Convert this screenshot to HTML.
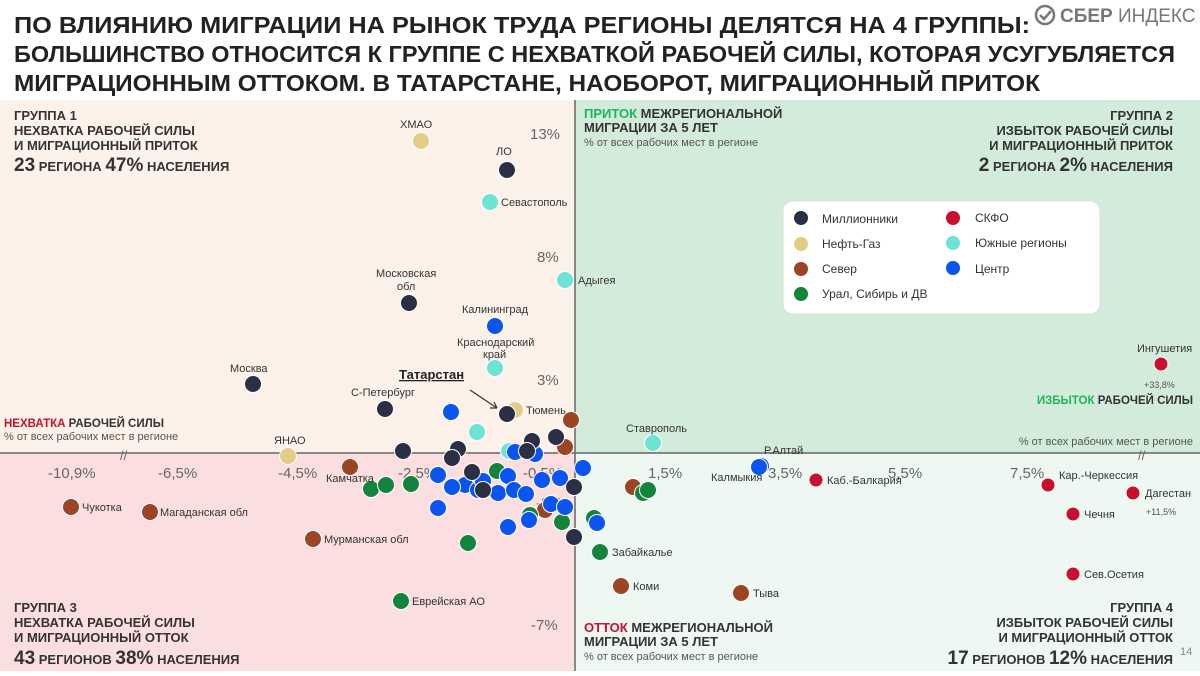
<!DOCTYPE html>
<html><head><meta charset="utf-8"><style>
body{margin:0;width:1200px;height:671px;overflow:hidden;background:#fff;font-family:"Liberation Sans","DejaVu Sans",sans-serif}
svg text{font-family:"Liberation Sans","DejaVu Sans",sans-serif}
</style></head><body>
<svg width="1200" height="671" xmlns="http://www.w3.org/2000/svg">
<rect x="0" y="0" width="1200" height="100" fill="#fff"/>
<g font-weight="bold" font-size="23" fill="#222">
<text x="14" y="33" textLength="1016" lengthAdjust="spacingAndGlyphs">ПО ВЛИЯНИЮ МИГРАЦИИ НА РЫНОК ТРУДА РЕГИОНЫ ДЕЛЯТСЯ НА 4 ГРУППЫ:</text>
<text x="14" y="62" textLength="1161" lengthAdjust="spacingAndGlyphs">БОЛЬШИНСТВО ОТНОСИТСЯ К ГРУППЕ С НЕХВАТКОЙ РАБОЧЕЙ СИЛЫ, КОТОРАЯ УСУГУБЛЯЕТСЯ</text>
<text x="14" y="91" textLength="1026" lengthAdjust="spacingAndGlyphs">МИГРАЦИОННЫМ ОТТОКОМ. В ТАТАРСТАНЕ, НАОБОРОТ, МИГРАЦИОННЫЙ ПРИТОК</text>
</g>
<circle cx="1045" cy="15" r="9" fill="none" stroke="#777" stroke-width="2.5"/>
<path d="M1040 15 l4 4 l7 -8" fill="none" stroke="#777" stroke-width="2.5"/>
<text x="1060" y="22" font-size="19" fill="#777"><tspan font-weight="bold">СБЕР</tspan> ИНДЕКС</text>
<rect x="0" y="100" width="575" height="353" fill="#fdf2ea"/>
<rect x="575" y="100" width="625" height="353" fill="#d3ebdb"/>
<rect x="0" y="453" width="575" height="218" fill="#fbdfe0"/>
<rect x="575" y="453" width="625" height="218" fill="#eef7f1"/>
<line x1="575" y1="100" x2="575" y2="671" stroke="#666" stroke-width="1.5"/>
<line x1="0" y1="453" x2="1200" y2="453" stroke="#666" stroke-width="1.5"/>
<text x="120" y="460" font-size="13" fill="#666">//</text>
<text x="1138" y="460" font-size="13" fill="#666">//</text>
<g font-size="15" fill="#666">
<text x="48" y="478">-10,9%</text><text x="158" y="478">-6,5%</text><text x="278" y="478">-4,5%</text>
<text x="398" y="478">-2,5%</text><text x="523" y="478">-0,5%</text><text x="648" y="478">1,5%</text>
<text x="768" y="478">3,5%</text><text x="888" y="478">5,5%</text><text x="1010" y="478">7,5%</text>
<text x="530" y="139">13%</text><text x="537" y="262">8%</text><text x="537" y="385">3%</text>
<text x="536" y="508">-2%</text><text x="531" y="630">-7%</text>
</g>
<g font-weight="bold" fill="#333" font-size="13">
<text x="14" y="120">ГРУППА 1</text><text x="14" y="135">НЕХВАТКА РАБОЧЕЙ СИЛЫ</text><text x="14" y="150">И МИГРАЦИОННЫЙ ПРИТОК</text>
<text x="14" y="171"><tspan font-size="19">23</tspan> РЕГИОНА <tspan font-size="19">47%</tspan> НАСЕЛЕНИЯ</text>
<text x="1173" y="120" text-anchor="end">ГРУППА 2</text><text x="1173" y="135" text-anchor="end">ИЗБЫТОК РАБОЧЕЙ СИЛЫ</text><text x="1173" y="150" text-anchor="end">И МИГРАЦИОННЫЙ ПРИТОК</text>
<text x="1173" y="171" text-anchor="end"><tspan font-size="19">2</tspan> РЕГИОНА <tspan font-size="19">2%</tspan> НАСЕЛЕНИЯ</text>
<text x="14" y="612">ГРУППА 3</text><text x="14" y="627">НЕХВАТКА РАБОЧЕЙ СИЛЫ</text><text x="14" y="642">И МИГРАЦИОННЫЙ ОТТОК</text>
<text x="14" y="664"><tspan font-size="19">43</tspan> РЕГИОНОВ <tspan font-size="19">38%</tspan> НАСЕЛЕНИЯ</text>
<text x="1173" y="612" text-anchor="end">ГРУППА 4</text><text x="1173" y="627" text-anchor="end">ИЗБЫТОК РАБОЧЕЙ СИЛЫ</text><text x="1173" y="642" text-anchor="end">И МИГРАЦИОННЫЙ ОТТОК</text>
<text x="1173" y="664" text-anchor="end"><tspan font-size="19">17</tspan> РЕГИОНОВ <tspan font-size="19">12%</tspan> НАСЕЛЕНИЯ</text>
<text x="584" y="118"><tspan fill="#1fb55a">ПРИТОК</tspan> МЕЖРЕГИОНАЛЬНОЙ</text><text x="584" y="132">МИГРАЦИИ ЗА 5 ЛЕТ</text>
<text x="584" y="632"><tspan fill="#c8102e">ОТТОК</tspan> МЕЖРЕГИОНАЛЬНОЙ</text><text x="584" y="646">МИГРАЦИИ ЗА 5 ЛЕТ</text>
<text x="4" y="427" font-size="11.5"><tspan fill="#c8102e">НЕХВАТКА</tspan> РАБОЧЕЙ СИЛЫ</text>
<text x="1193" y="404" font-size="11.5" text-anchor="end"><tspan fill="#1fb55a">ИЗБЫТОК</tspan> РАБОЧЕЙ СИЛЫ</text>
</g>
<g font-size="11" fill="#555">
<text x="584" y="146">% от всех рабочих мест в регионе</text>
<text x="584" y="660">% от всех рабочих мест в регионе</text>
<text x="4" y="440">% от всех рабочих мест в регионе</text>
<text x="1193" y="445" text-anchor="end">% от всех рабочих мест в регионе</text>
</g>
<text x="1180" y="655" font-size="11" fill="#888">14</text>
<rect x="783" y="201" width="317" height="113" rx="10" fill="#fff" stroke="#ddd"/>
<g font-size="12" fill="#333">
<circle cx="801" cy="218" r="7" fill="#2b2f45"/><text x="822" y="223">Миллионники</text>
<circle cx="801" cy="244" r="7" fill="#e3cc84"/><text x="822" y="248">Нефть-Газ</text>
<circle cx="801" cy="269" r="7" fill="#9c4423"/><text x="822" y="273">Север</text>
<circle cx="801" cy="294" r="7" fill="#13843c"/><text x="822" y="298">Урал, Сибирь и ДВ</text>
<circle cx="953" cy="218" r="7" fill="#c8102e"/><text x="975" y="222">СКФО</text>
<circle cx="953" cy="243" r="7" fill="#6de3d4"/><text x="975" y="247">Южные регионы</text>
<circle cx="953" cy="268" r="7" fill="#0a55f0"/><text x="975" y="273">Центр</text>
</g>
<g stroke="#fff" stroke-width="1" id="dots">
<g fill="#e3cc84"><circle cx="421" cy="141" r="8.5"/><circle cx="515" cy="410" r="8.5"/><circle cx="288" cy="456" r="8.5"/></g>
<g fill="#6de3d4"><circle cx="490" cy="202" r="8.5"/><circle cx="495" cy="368" r="8.5"/><circle cx="565" cy="280" r="8.5"/><circle cx="477" cy="432" r="8.5"/><circle cx="509" cy="451" r="8.5"/><circle cx="653" cy="443" r="8.5"/></g>
<g fill="#9c4423"><circle cx="571" cy="420" r="8.5"/><circle cx="565" cy="447" r="8.5"/><circle cx="350" cy="467" r="8.5"/><circle cx="545" cy="510" r="8.5"/><circle cx="71" cy="507" r="8.5"/><circle cx="150" cy="512" r="8.5"/><circle cx="313" cy="539" r="8.5"/><circle cx="633" cy="487" r="8.5"/><circle cx="621" cy="586" r="8.5"/><circle cx="741" cy="593" r="8.5"/></g>
<g fill="#13843c"><circle cx="371" cy="489" r="8.5"/><circle cx="386" cy="485" r="8.5"/><circle cx="411" cy="484" r="8.5"/><circle cx="497" cy="471" r="8.5"/><circle cx="530" cy="515" r="8.5"/><circle cx="562" cy="522" r="8.5"/><circle cx="468" cy="543" r="8.5"/><circle cx="401" cy="601" r="8.5"/><circle cx="643" cy="493" r="8.5"/><circle cx="648" cy="490" r="8.5"/><circle cx="594" cy="518" r="8.5"/><circle cx="600" cy="552" r="8.5"/></g>
<g fill="#0a55f0"><circle cx="495" cy="326" r="8.5"/><circle cx="451" cy="412" r="8.5"/><circle cx="535" cy="454" r="8.5"/><circle cx="515" cy="452" r="8.5"/><circle cx="438" cy="475" r="8.5"/><circle cx="508" cy="476" r="8.5"/><circle cx="465" cy="485" r="8.5"/><circle cx="478" cy="490" r="8.5"/><circle cx="498" cy="493" r="8.5"/><circle cx="483" cy="481" r="8.5"/><circle cx="452" cy="487" r="8.5"/><circle cx="514" cy="490" r="8.5"/><circle cx="526" cy="494" r="8.5"/><circle cx="542" cy="480" r="8.5"/><circle cx="560" cy="478" r="8.5"/><circle cx="551" cy="504" r="8.5"/><circle cx="565" cy="507" r="8.5"/><circle cx="529" cy="520" r="8.5"/><circle cx="508" cy="527" r="8.5"/><circle cx="438" cy="508" r="8.5"/><circle cx="583" cy="468" r="8.5"/><circle cx="597" cy="523" r="8.5"/><circle cx="761" cy="466" r="8.5"/><circle cx="759" cy="467" r="8.5"/></g>
<g fill="#2b2f45"><circle cx="507" cy="170" r="8.5"/><circle cx="409" cy="303" r="8.5"/><circle cx="253" cy="384" r="8.5"/><circle cx="385" cy="409" r="8.5"/><circle cx="507" cy="414" r="8.5"/><circle cx="556" cy="437" r="8.5"/><circle cx="532" cy="441" r="8.5"/><circle cx="403" cy="451" r="8.5"/><circle cx="458" cy="449" r="8.5"/><circle cx="452" cy="458" r="8.5"/><circle cx="527" cy="451" r="8.5"/><circle cx="472" cy="472" r="8.5"/><circle cx="483" cy="490" r="8.5"/><circle cx="574" cy="487" r="8.5"/><circle cx="574" cy="537" r="8.5"/></g>
<g fill="#c8102e"><circle cx="1161" cy="364" r="7"/><circle cx="816" cy="480" r="7"/><circle cx="1048" cy="485" r="7"/><circle cx="1133" cy="493" r="7"/><circle cx="1073" cy="514" r="7"/><circle cx="1073" cy="574" r="7"/></g>
</g>
<line x1="470" y1="390" x2="497" y2="408" stroke="#333" stroke-width="1.2"/>
<path d="M497 408 l-7 0 M497 408 l-3 -6" stroke="#333" stroke-width="1.2"/>
<g font-size="11" fill="#333">
<text x="400" y="128">ХМАО</text><text x="496" y="155">ЛО</text><text x="501" y="206">Севастополь</text>
<text x="376" y="277">Московская</text><text x="397" y="290">обл</text>
<text x="462" y="313">Калининград</text><text x="457" y="346">Краснодарский</text><text x="483" y="358">край</text>
<text x="230" y="372">Москва</text><text x="351" y="396">С-Петербург</text><text x="526" y="414">Тюмень</text>
<text x="578" y="284">Адыгея</text><text x="274" y="444">ЯНАО</text><text x="326" y="482">Камчатка</text>
<text x="82" y="511">Чукотка</text><text x="160" y="516">Магаданская обл</text><text x="324" y="543">Мурманская обл</text>
<text x="412" y="605">Еврейская АО</text><text x="612" y="556">Забайкалье</text><text x="633" y="590">Коми</text><text x="753" y="597">Тыва</text>
<text x="626" y="432">Ставрополь</text><text x="764" y="454">Р.Алтай</text><text x="711" y="481">Калмыкия</text>
<text x="827" y="484">Каб.-Балкария</text><text x="1059" y="479">Кар.-Черкессия</text><text x="1145" y="497">Дагестан</text>
<text x="1084" y="518">Чечня</text><text x="1084" y="578">Сев.Осетия</text><text x="1137" y="352">Ингушетия</text>
</g>
<text x="1144" y="388" font-size="9" fill="#555">+33,8%</text>
<text x="1146" y="515" font-size="9" fill="#555">+11,5%</text>
<text x="399" y="379" font-size="13" font-weight="bold" fill="#222" text-decoration="underline">Татарстан</text>
</svg>
</body></html>
